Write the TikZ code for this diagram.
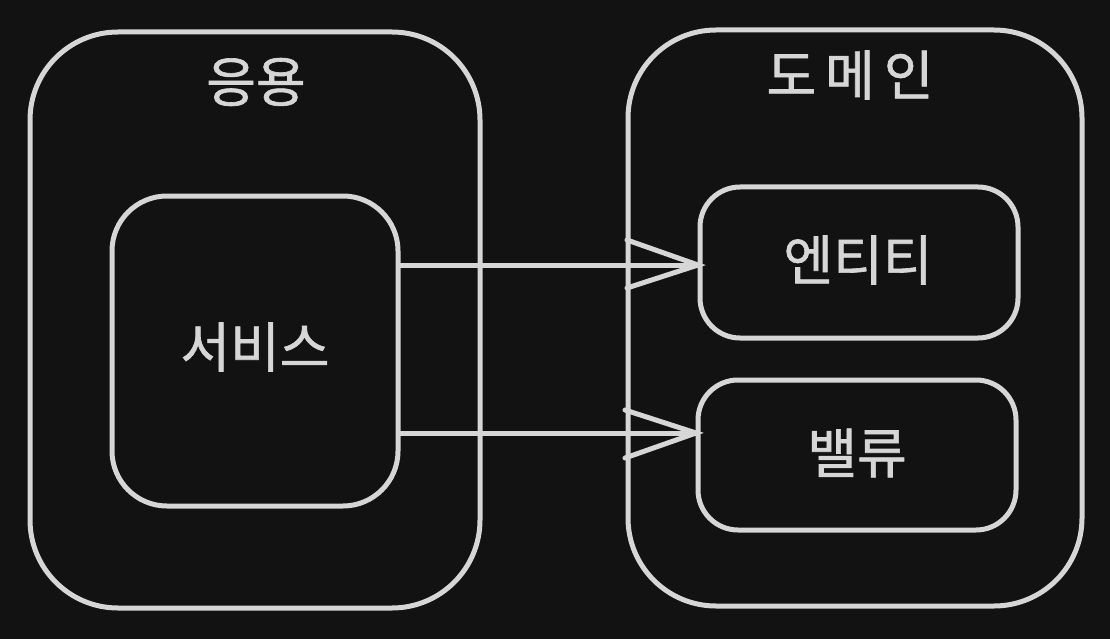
\documentclass[tikz,border=0pt]{standalone}
\usepackage{fontspec}
\newfontfamily\kr[FakeBold=1.2]{Noto Sans CJK KR}
\definecolor{bg}{HTML}{121212}
\definecolor{fg}{HTML}{D6D6D6}
\begin{document}
\begin{tikzpicture}[x=1pt,y=-1pt,
  box/.style={draw=fg,line width=5pt},
  lbl/.style={text=fg,font=\kr\fontsize{54}{58}\selectfont,inner sep=0pt},
  conn/.style={draw=fg,line width=5pt,line cap=round}]
\fill[bg] (0,0) rectangle (1110,639);
\useasboundingbox (0,0) rectangle (1110,639);
% containers
\draw[box,rounded corners=88pt] (30,32) rectangle (480,608);
\draw[box,rounded corners=88pt] (628,30) rectangle (1082,606);
\draw[box,rounded corners=55pt] (112,196) rectangle (398,506);
\draw[box,rounded corners=40pt] (700,187) rectangle (1018,338);
\draw[box,rounded corners=40pt] (698,380) rectangle (1016,530);
% named anchors
\coordinate (svc1) at (400,265);
\coordinate (ent) at (698,265);
\coordinate (svc2) at (400,433);
\coordinate (val) at (696,433);
\coordinate (e1) at (627,240);
\coordinate (e2) at (627,288);
\coordinate (v1) at (625,410);
\coordinate (v2) at (625,458);
\draw[conn] (svc1) -- (ent);
\draw[conn] (e1) -- (ent) -- (e2);
\draw[conn] (svc2) -- (val);
\draw[conn] (v1) -- (val) -- (v2);
% labels
\node[lbl] (app) at (256,82) {응용};
\node[lbl] (dom) at (850,75) {도\,메\,인};
\node[lbl] (service) at (255,347) {서비스};
\node[lbl] (entity) at (858,260) {엔티티};
\node[lbl] (value) at (857,453) {밸류};
\end{tikzpicture}
\end{document}
